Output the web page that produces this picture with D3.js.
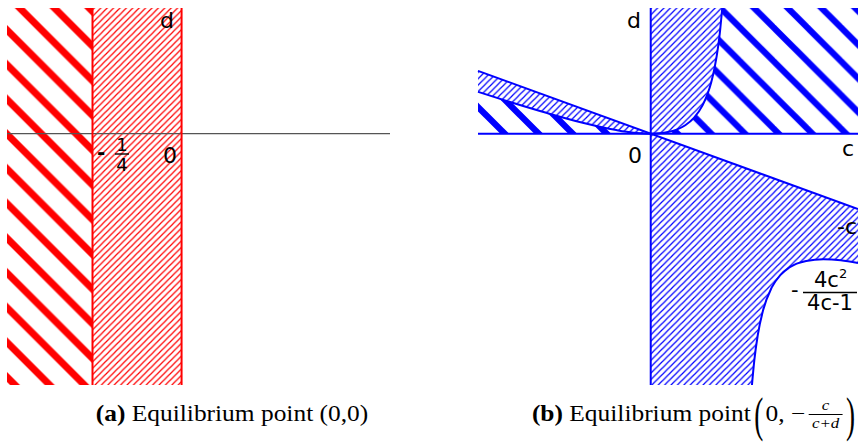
<!DOCTYPE html>
<html>
<head>
<meta charset="utf-8">
<script src="https://cdn.jsdelivr.net/npm/d3@7"></script>
<style>
  body { margin: 0; background: #fff; }
  svg { display: block; }
</style>
</head>
<body>
<div id="plot"></div>
<script>
    // Axis ranges (c horizontal, d vertical)
    const cDomainA = [-0.49, 0.585];
    const cDomainB = [-0.5, 0.6];
    const dDomain = [-2, 1];

    // Panel (a): the two strips and their borders
    const stripsA = [
        { from: -0.49, to: -0.25, kind: 'thick' },
        { from: -0.25, to: 0, kind: 'thin' }
    ];
    const bordersA = [-0.25, 0];

    // Panel (b): boundary d = -4c^2/(4c-1) [c, d]
    const curveLeft = [[-0.5, 0.333], [-0.4, 0.246], [-0.3, 0.164], [-0.2, 0.089], [-0.1, 0.029], [-0.05, 0.008], [0, 0]];
    const curveUp = [[0, 0], [0.025, 0.003], [0.05, 0.0125], [0.075, 0.032], [0.1, 0.067], [0.125, 0.125], [0.15, 0.225],
                     [0.165, 0.32], [0.175, 0.408], [0.185, 0.527], [0.195, 0.691], [0.2, 0.8], [0.207, 1]];
    const curveLow = [[0.293, -2], [0.3, -1.8], [0.31, -1.6], [0.325, -1.408], [0.35, -1.225], [0.375, -1.125],
                      [0.4, -1.067], [0.45, -1.013], [0.5, -1], [0.55, -1.008], [0.6, -1.029]];
    // boundary d = -c
    const lineMinusC = [[-0.5, 0.5], [0.6, -0.6]];

    const svgWidth = 858;
    const svgHeight = 446;
    const red = '#ff0000';
    const blue = '#0000ff';
    const labelFont = '"DejaVu Sans", Verdana, sans-serif';
    const captionFont = '"Liberation Serif", "DejaVu Serif", serif';
    const capStretch = 1.13;

    const svg = d3.select('#plot')
        .append('svg')
        .attr('width', svgWidth)
        .attr('height', svgHeight);

    const defs = svg.append('defs');

    // hatch pattern: 'back' = "\" stripes, 'fwd' = "/" stripes
    function hatch(id, color, period, width, dir, offset) {
        const p = defs.append('pattern')
            .attr('id', id)
            .attr('patternUnits', 'userSpaceOnUse')
            .attr('width', period)
            .attr('height', period)
            .attr('x', 0)
            .attr('y', offset);
        [-1, 0, 1].forEach(k => {
            const l = p.append('line');
            if (dir === 'back') {
                l.attr('x1', -period).attr('y1', -period + k * period)
                 .attr('x2', 2 * period).attr('y2', 2 * period + k * period);
            } else {
                l.attr('x1', -period).attr('y1', 2 * period + k * period)
                 .attr('x2', 2 * period).attr('y2', -period + k * period);
            }
            l.attr('stroke', color).attr('stroke-width', width);
        });
    }

    hatch('redThick', red, 34.7, 7, 'back', 23);
    hatch('redThin', red, 6.4, 1.2, 'fwd', 0);
    hatch('blueThickR', blue, 33.7, 6.2, 'back', 29);
    hatch('blueThickL', blue, 34, 6.2, 'back', 3);
    hatch('blueThin', blue, 6.4, 1.2, 'fwd', 0);

    const yScale = d3.scaleLinear().domain(dDomain).range([385, 8]);

    // ---------- panel (a) ----------
    const xA = d3.scaleLinear().domain(cDomainA).range([7, 390]);

    svg.selectAll('.stripA')
        .data(stripsA)
        .enter()
        .append('rect')
        .attr('class', 'stripA')
        .attr('x', d => xA(d.from))
        .attr('y', yScale(dDomain[1]))
        .attr('width', d => xA(d.to) - xA(d.from))
        .attr('height', yScale(dDomain[0]) - yScale(dDomain[1]))
        .attr('fill', d => d.kind === 'thick' ? 'url(#redThick)' : 'url(#redThin)');

    svg.append('line')
        .attr('x1', xA(cDomainA[0])).attr('x2', xA(cDomainA[1]))
        .attr('y1', yScale(0)).attr('y2', yScale(0))
        .attr('stroke', '#555').attr('stroke-width', 1.3);

    svg.selectAll('.borderA')
        .data(bordersA)
        .enter()
        .append('line')
        .attr('class', 'borderA')
        .attr('x1', d => xA(d)).attr('x2', d => xA(d))
        .attr('y1', yScale(dDomain[0])).attr('y2', yScale(dDomain[1]))
        .attr('stroke', red).attr('stroke-width', 2);

    svg.append('text').attr('x', 160).attr('y', 28).text('d')
        .style('font-family', labelFont).style('font-size', '22px');
    svg.append('text').attr('x', 163).attr('y', 163).text('0')
        .style('font-family', labelFont).style('font-size', '22px');
    svg.append('text').attr('x', 97).attr('y', 159).text('-')
        .style('font-family', labelFont).style('font-size', '20px').style('font-weight', 'bold');
    svg.append('text').attr('x', 122).attr('y', 151).attr('text-anchor', 'middle').text('1')
        .style('font-family', labelFont).style('font-size', '18px');
    svg.append('line').attr('x1', 115).attr('x2', 129).attr('y1', 154).attr('y2', 154)
        .attr('stroke', '#000').attr('stroke-width', 1.4);
    svg.append('text').attr('x', 122).attr('y', 171).attr('text-anchor', 'middle').text('4')
        .style('font-family', labelFont).style('font-size', '18px');

    // ---------- panel (b) ----------
    const xB = d3.scaleLinear().domain(cDomainB).range([478, 858]);
    const curveLine = d3.line()
        .x(d => xB(d[0]))
        .y(d => yScale(d[1]))
        .curve(d3.curveMonotoneX);
    const P = (c, d) => `L${xB(c)},${yScale(d)}`;

    const regionsB = [
        { fill: 'url(#blueThin)', path: curveLine(curveLeft) + P(-0.5, 0.5) + 'Z' },
        { fill: 'url(#blueThickL)', path: curveLine(curveLeft) + P(-0.5, 0) + 'Z' },
        { fill: 'url(#blueThin)', path: curveLine(curveUp) + P(0, 1) + 'Z' },
        { fill: 'url(#blueThickR)', path: curveLine(curveUp) + P(0.6, 1) + P(0.6, 0) + 'Z' },
        { fill: 'url(#blueThin)', path: curveLine(curveLow) + P(0.6, -0.6) + P(0, 0) + P(0, -2) + 'Z' }
    ];

    svg.selectAll('.regionB')
        .data(regionsB)
        .enter()
        .append('path')
        .attr('class', 'regionB')
        .attr('d', d => d.path)
        .attr('fill', d => d.fill);

    // boundary lines
    const g = svg.append('g')
        .attr('fill', 'none')
        .attr('stroke', blue)
        .attr('stroke-width', 2);
    g.append('line')
        .attr('x1', xB(cDomainB[0])).attr('x2', xB(cDomainB[1]))
        .attr('y1', yScale(0)).attr('y2', yScale(0));
    g.append('line')
        .attr('x1', xB(0)).attr('x2', xB(0))
        .attr('y1', yScale(dDomain[0])).attr('y2', yScale(dDomain[1]));
    g.append('path').attr('d', d3.line().x(d => xB(d[0])).y(d => yScale(d[1]))(lineMinusC));
    [curveLeft, curveUp, curveLow].forEach(c => g.append('path').attr('d', curveLine(c)));

    svg.append('text').attr('x', 627).attr('y', 28).text('d')
        .style('font-family', labelFont).style('font-size', '22px');
    svg.append('text').attr('x', 628).attr('y', 163).text('0')
        .style('font-family', labelFont).style('font-size', '22px');
    svg.append('text').attr('x', 842).attr('y', 156).text('c')
        .style('font-family', labelFont).style('font-size', '22px');
    svg.append('text').attr('x', 857).attr('y', 234).attr('text-anchor', 'end').text('-c')
        .style('font-family', labelFont).style('font-size', '22px');
    svg.append('text').attr('x', 791).attr('y', 297).text('-')
        .style('font-family', labelFont).style('font-size', '21px');
    const num = svg.append('text').attr('x', 814).attr('y', 287)
        .style('font-family', labelFont).style('font-size', '21px');
    num.append('tspan').text('4c');
    num.append('tspan').attr('dy', -9).style('font-size', '13px').text('2');
    svg.append('line').attr('x1', 803).attr('x2', 857).attr('y1', 292.5).attr('y2', 292.5)
        .attr('stroke', '#000').attr('stroke-width', 1.4);
    svg.append('text').attr('x', 830).attr('y', 310).attr('text-anchor', 'middle').text('4c-1')
        .style('font-family', labelFont).style('font-size', '21px');

    // ---------- captions ----------
    const capAg = svg.append('g').attr('transform', `translate(232,0) scale(${capStretch},1)`);
    const capA = capAg.append('text')
        .attr('x', 0).attr('y', 421)
        .attr('text-anchor', 'middle')
        .style('font-family', captionFont).style('font-size', '22.5px');
    capA.append('tspan').style('font-weight', 'bold').text('(a)');
    capA.append('tspan').text(' Equilibrium point (0,0)');

    const capB = svg.append('g');
    const tB = capB.append('text').attr('x', 0).attr('y', 421)
        .style('font-family', captionFont).style('font-size', '22.5px');
    tB.append('tspan').style('font-weight', 'bold').text('(b)');
    tB.append('tspan').text(' Equilibrium point ');
    let cx = tB.node().getComputedTextLength() + 3;
    const lp = capB.append('text').attr('transform', `translate(${cx},431) scale(1,2)`)
        .style('font-family', captionFont).style('font-size', '24px').text('(');
    cx += lp.node().getComputedTextLength() + 2;
    const mid = capB.append('text').attr('x', cx).attr('y', 421)
        .style('font-family', captionFont).style('font-size', '22.5px').text('0, \u2212');
    cx += mid.node().getComputedTextLength() + 3;
    const fw = 30;
    capB.append('text').attr('x', cx + fw / 2).attr('y', 410).attr('text-anchor', 'middle')
        .style('font-family', captionFont).style('font-size', '15px').style('font-style', 'italic').text('c');
    capB.append('line').attr('x1', cx).attr('x2', cx + fw).attr('y1', 414.5).attr('y2', 414.5)
        .attr('stroke', '#000').attr('stroke-width', 0.9);
    capB.append('text').attr('x', cx + fw / 2).attr('y', 428).attr('text-anchor', 'middle')
        .style('font-family', captionFont).style('font-size', '15px').style('font-style', 'italic').text('c+d');
    cx += fw + 3;
    const rp = capB.append('text').attr('transform', `translate(${cx},431) scale(1,2)`)
        .style('font-family', captionFont).style('font-size', '24px').text(')');
    cx += rp.node().getComputedTextLength();
    capB.attr('transform', `translate(${855 - cx * capStretch},0) scale(${capStretch},1)`);
</script>
</body>
</html>
